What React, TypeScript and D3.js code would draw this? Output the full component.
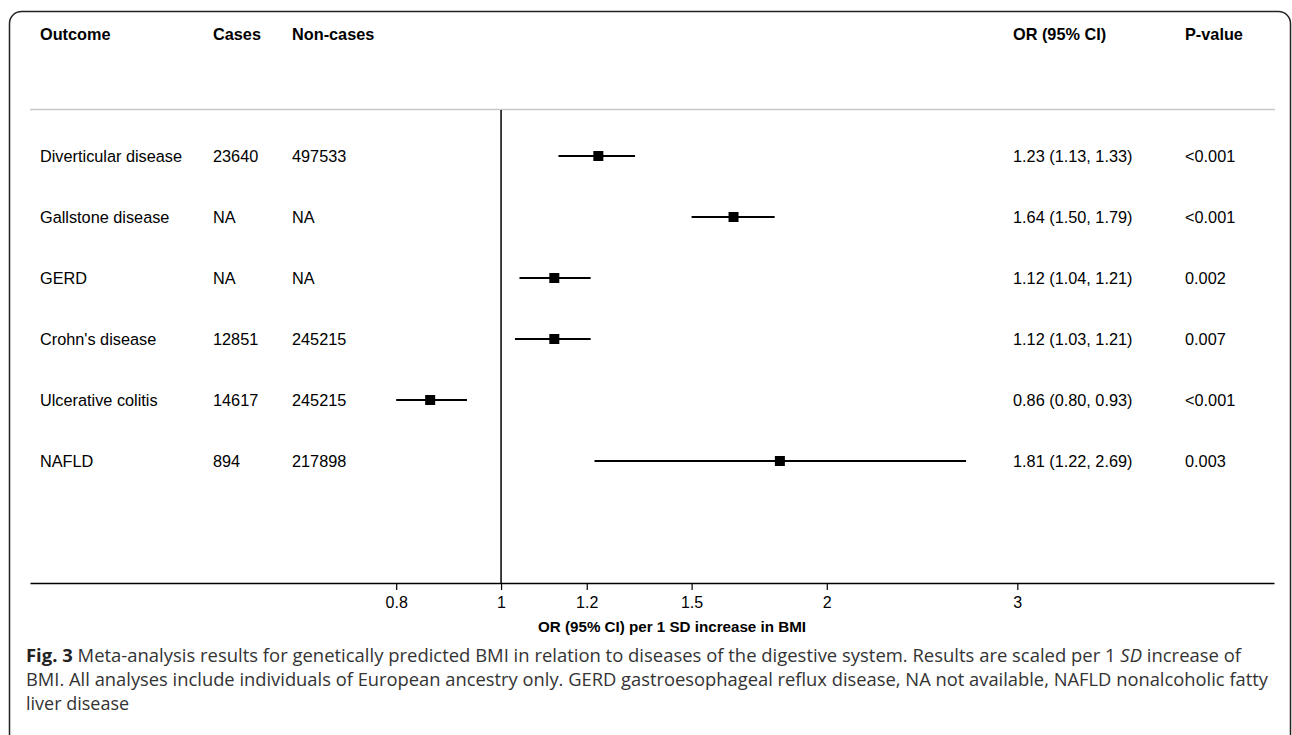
import React, { useEffect, useRef } from 'react';
import * as d3 from 'd3';

// Forest plot data
const outcomes = ['Diverticular disease', 'Gallstone disease', 'GERD', "Crohn's disease", 'Ulcerative colitis', 'NAFLD'];
const cases = ['23640', 'NA', 'NA', '12851', '14617', '894'];
const nonCases = ['497533', 'NA', 'NA', '245215', '245215', '217898'];
const orValues = [1.23, 1.64, 1.12, 1.12, 0.86, 1.81];
const lowerCI = [1.13, 1.50, 1.04, 1.03, 0.80, 1.22];
const upperCI = [1.33, 1.79, 1.21, 1.21, 0.93, 2.69];
const pValues = ['<0.001', '<0.001', '0.002', '0.007', '<0.001', '0.003'];
const tickValues = [0.8, 1, 1.2, 1.5, 2, 3];

const captionLines = [
  'Meta-analysis results for genetically predicted BMI in relation to diseases of the digestive system. Results are scaled per 1 SD increase of',
  'BMI. All analyses include individuals of European ancestry only. GERD gastroesophageal reflux disease, NA not available, NAFLD nonalcoholic fatty',
  'liver disease',
];

const W = 1292;
const H = 735;

const App = () => {
  const svgRef = useRef<SVGSVGElement | null>(null);

  useEffect(() => {
    document.body.style.margin = '0';
    const svg = d3.select(svgRef.current);
    svg.selectAll('*').remove();

    const font = '"Liberation Sans", Arial, Helvetica, sans-serif';
    const col = { outcome: 40, cases: 213, nonCases: 292, or: 1013, p: 1185 };

    // Frame with rounded corners (bottom runs off the page)
    svg.append('rect')
      .attr('x', 9.5).attr('y', 11.5)
      .attr('width', 1281).attr('height', 760)
      .attr('rx', 12)
      .attr('fill', 'none')
      .attr('stroke', '#222')
      .attr('stroke-width', 1.5);

    // Scales
    const x = d3.scaleLog().domain([0.367, 5.18]).range([30, 1274]);
    const y = d3.scalePoint<string>().domain(outcomes).range([156, 461]);
    const axisY = 583;

    // Header
    const header = svg.append('g')
      .attr('font-family', font)
      .attr('font-size', 16.3)
      .attr('font-weight', 'bold')
      .attr('fill', '#000');
    [['Outcome', col.outcome], ['Cases', col.cases], ['Non-cases', col.nonCases], ['OR (95% CI)', col.or], ['P-value', col.p]]
      .forEach(([t, cx]) => {
        header.append('text').attr('x', cx as number).attr('y', 40).text(t as string);
      });

    // Gray separator
    svg.append('line')
      .attr('x1', 30).attr('x2', 1275)
      .attr('y1', 109.5).attr('y2', 109.5)
      .attr('stroke', '#c8c8c8')
      .attr('stroke-width', 1.5);

    // Row text
    const rows = svg.append('g')
      .attr('font-family', font)
      .attr('font-size', 16.3)
      .attr('fill', '#000');
    outcomes.forEach((o, i) => {
      const yy = (y(o) as number) + 6;
      rows.append('text').attr('x', col.outcome).attr('y', yy).text(o);
      rows.append('text').attr('x', col.cases).attr('y', yy).text(cases[i]);
      rows.append('text').attr('x', col.nonCases).attr('y', yy).text(nonCases[i]);
      rows.append('text').attr('x', col.or).attr('y', yy)
        .text(`${orValues[i].toFixed(2)} (${lowerCI[i].toFixed(2)}, ${upperCI[i].toFixed(2)})`);
      rows.append('text').attr('x', col.p).attr('y', yy).text(pValues[i]);
    });

    // Reference line at OR = 1
    svg.append('line')
      .attr('x1', x(1)).attr('x2', x(1))
      .attr('y1', 110).attr('y2', axisY)
      .attr('stroke', '#000')
      .attr('stroke-width', 1.5);

    // CI lines and point estimates
    const marks = svg.append('g');
    outcomes.forEach((o, i) => {
      const yy = y(o) as number;
      marks.append('line')
        .attr('x1', x(lowerCI[i])).attr('x2', x(upperCI[i]))
        .attr('y1', yy).attr('y2', yy)
        .attr('stroke', '#000')
        .attr('stroke-width', 2);
      marks.append('rect')
        .attr('x', x(orValues[i]) - 5).attr('y', yy - 5)
        .attr('width', 10).attr('height', 10)
        .attr('fill', '#000');
    });

    // X axis
    const axis = svg.append('g')
      .attr('transform', `translate(0, ${axisY})`)
      .call(d3.axisBottom(x).tickValues(tickValues).tickSize(7).tickSizeOuter(0).tickFormat(d => String(d)));
    axis.select('.domain').attr('stroke', '#000').attr('stroke-width', 1.5);
    axis.selectAll('.tick line').attr('stroke', '#000').attr('stroke-width', 1.2);
    axis.selectAll('.tick text')
      .attr('font-family', font)
      .attr('font-size', 16)
      .attr('fill', '#000')
      .attr('dy', '0.95em');

    // Axis title
    svg.append('text')
      .attr('x', 672).attr('y', 632)
      .attr('text-anchor', 'middle')
      .attr('font-family', font)
      .attr('font-size', 14)
      .attr('font-weight', 'bold')
      .attr('textLength', 268)
      .attr('lengthAdjust', 'spacingAndGlyphs')
      .text('OR (95% CI) per 1 SD increase in BMI');

    // Caption
    const cap = svg.append('g')
      .attr('font-family', '"Open Sans", "Noto Sans", sans-serif')
      .attr('font-size', 18)
      .attr('fill', '#333');
    const l1 = cap.append('text').attr('x', 26).attr('y', 662)
      .attr('textLength', 1215).attr('lengthAdjust', 'spacingAndGlyphs');
    l1.append('tspan').attr('font-weight', 'bold').attr('fill', '#222').text('Fig. 3');
    l1.append('tspan').text(' ' + captionLines[0].replace(' SD increase of', ' '));
    l1.append('tspan').attr('font-style', 'italic').text('SD');
    l1.append('tspan').text(' increase of');
    cap.append('text').attr('x', 26).attr('y', 686)
      .attr('textLength', 1242).attr('lengthAdjust', 'spacingAndGlyphs')
      .text(captionLines[1]);
    cap.append('text').attr('x', 26).attr('y', 710).text(captionLines[2]);
  }, []);

  return <svg ref={svgRef} width={W} height={H} style={{ display: 'block', background: '#fff' }} />;
};

export default App;
